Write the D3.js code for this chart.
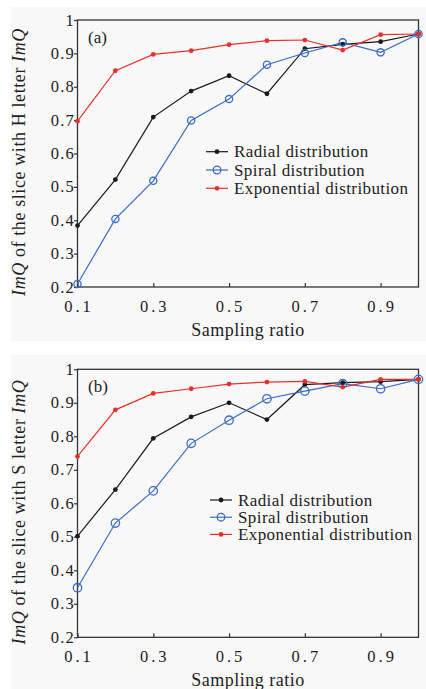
<!DOCTYPE html>
<html><head><meta charset="utf-8">
<script src="https://cdn.jsdelivr.net/npm/d3@7"></script>
<style>
html,body{margin:0;padding:0;background:#fff;}
</style></head>
<body>
<svg id="chart" width="426" height="689" font-family="'Liberation Serif', 'Times New Roman', 'DejaVu Serif', serif"></svg>
<script>
const ratios = [0.1,0.2,0.3,0.4,0.5,0.6,0.7,0.8,0.9,1.0];
const xTicks = [0.1,0.3,0.5,0.7,0.9];
const yTicks = [0.2,0.3,0.4,0.5,0.6,0.7,0.8,0.9,1];
const seriesNames = ["Radial distribution","Spiral distribution","Exponential distribution"];

// Panel (a): H letter
const radialH = [0.384,0.522,0.709,0.787,0.833,0.779,0.914,0.927,0.935,0.958];
const spiralH = [0.209,0.404,0.518,0.699,0.763,0.866,0.901,0.933,0.903,0.958];
const expH    = [0.697,0.848,0.897,0.908,0.926,0.938,0.940,0.910,0.956,0.958];

// Panel (b): S letter
const radialS = [0.502,0.641,0.794,0.858,0.900,0.850,0.954,0.960,0.963,0.970];
const spiralS = [0.348,0.541,0.637,0.779,0.848,0.912,0.935,0.957,0.942,0.970];
const expS    = [0.740,0.879,0.928,0.942,0.956,0.962,0.964,0.947,0.970,0.970];

const colors = {radial:"#1a1a1a", spiral:"#3a6cc6", exp:"#e8302c"};
const FONT = "'Liberation Serif', 'Times New Roman', 'DejaVu Serif', serif";
const svg = d3.select("#chart");

function txt(sel){ return sel.attr("font-family",FONT).attr("fill","#222"); }

function panel(opt){
  const g = svg.append("g");
  g.append("rect").attr("x",11).attr("y",opt.bgTop).attr("width",415).attr("height",opt.bgH).attr("fill","#f8f8f8");
  const x = d3.scaleLinear().domain([0.1,1.0]).range([77.5,418.5]);
  const y = d3.scaleLinear().domain([0.2,1]).range([opt.bottom,opt.top]);

  g.append("rect").attr("x",x(0.1)).attr("y",y(1)).attr("width",x(1)-x(0.1)).attr("height",y(0.2)-y(1))
    .attr("fill","none").attr("stroke","#333").attr("stroke-width",1.3);

  const xa = g.append("g").attr("transform",`translate(0,${y(0.2)})`)
    .call(d3.axisBottom(x).tickValues(xTicks).tickSize(-4).tickFormat(""));
  xa.select(".domain").remove();
  xa.selectAll("line").attr("stroke","#333").attr("stroke-width",1.2);
  txt(g.selectAll(".xl").data(xTicks).enter().append("text"))
    .attr("x",d=>x(d)+1.5).attr("y",y(0.2)+25).attr("text-anchor","middle")
    .attr("font-size","16.5px").attr("letter-spacing","3px")
    .text(d=>d3.format(".1f")(d));

  const ya = g.append("g").attr("transform",`translate(${x(0.1)},0)`)
    .call(d3.axisLeft(y).tickValues(yTicks).tickSize(3.5).tickFormat(""));
  ya.select(".domain").remove();
  ya.selectAll("line").attr("stroke","#333").attr("stroke-width",1.2);
  txt(g.selectAll(".yl").data(yTicks).enter().append("text"))
    .attr("x",75).attr("y",d=>y(d)+5.5).attr("text-anchor","end")
    .attr("font-size","16.5px").attr("letter-spacing","1.2px")
    .text(d=>d===1?"1":d3.format(".1f")(d));

  txt(g.append("text")).attr("x",248).attr("y",y(0.2)+49).attr("text-anchor","middle")
    .attr("font-size","18px").attr("letter-spacing","0.5px").text("Sampling ratio");
  const yt = txt(g.append("text")).attr("transform",`translate(25,${opt.ylabelY}) rotate(-90)`)
    .attr("text-anchor","middle").attr("font-size","18px").attr("letter-spacing","0.6px");
  yt.append("tspan").attr("font-style","italic").text("ImQ");
  yt.append("tspan").text(` of the slice with ${opt.letter} letter `);
  yt.append("tspan").attr("font-style","italic").text("ImQ");

  txt(g.append("text")).attr("x",88).attr("y",y(1)+23).attr("font-size","17px").text(opt.tag);

  const line = d3.line().x((d,i)=>x(ratios[i])).y(d=>y(d));
  const sets = [
    {vals:opt.radial,c:colors.radial,type:"dot"},
    {vals:opt.spiral,c:colors.spiral,type:"ring"},
    {vals:opt.exp,c:colors.exp,type:"dot"}
  ];
  sets.forEach(s=>{
    g.append("path").datum(s.vals).attr("d",line).attr("fill","none").attr("stroke",s.c).attr("stroke-width",1.2);
  });
  sets.forEach(s=>{
    const m = g.selectAll(null).data(s.vals).enter().append("circle")
      .attr("cx",(d,i)=>x(ratios[i])).attr("cy",d=>y(d));
    if(s.type==="ring") m.attr("r",opt.ringR).attr("fill","none").attr("stroke",s.c).attr("stroke-width",1.3);
    else m.attr("r",2.4).attr("fill",s.c);
  });

  const lg = g.append("g");
  sets.forEach((s,i)=>{
    const cy = opt.legY + i*opt.legDy;
    lg.append("line").attr("x1",opt.legX).attr("x2",opt.legX+22).attr("y1",cy).attr("y2",cy).attr("stroke",s.c).attr("stroke-width",1.2);
    if(s.type==="ring") lg.append("circle").attr("cx",opt.legX+11).attr("cy",cy).attr("r",3.8).attr("fill","none").attr("stroke",s.c).attr("stroke-width",1.3);
    else lg.append("circle").attr("cx",opt.legX+11).attr("cy",cy).attr("r",2.4).attr("fill",s.c);
    txt(lg.append("text")).attr("x",opt.legX+28).attr("y",cy+5.5).attr("font-size","17px").attr("letter-spacing","0.4px").text(seriesNames[i]);
  });
}

panel({tag:"(a)",letter:"H",top:20,bottom:287,bgTop:7,bgH:334,ylabelY:162,
  radial:radialH,spiral:spiralH,exp:expH,ringR:3.6,legX:206,legY:151.7,legDy:18.3});
panel({tag:"(b)",letter:"S",top:369.3,bottom:637.3,bgTop:355,bgH:334,ylabelY:512,
  radial:radialS,spiral:spiralS,exp:expS,ringR:4.2,legX:210,legY:500,legDy:17.2});
</script>
</body></html>
